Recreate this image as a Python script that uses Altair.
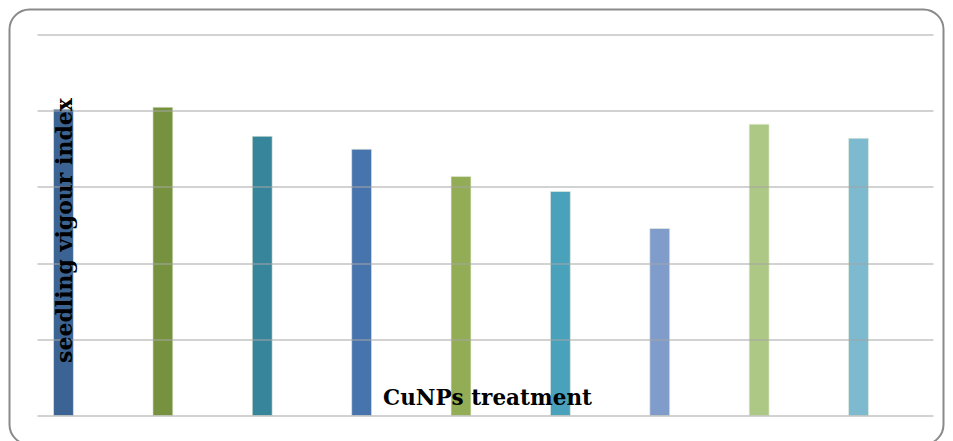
import altair as alt
import pandas as pd

treatments = ["T1", "T2", "T3", "T4", "T5", "T6", "T7", "T8", "T9"]
vigour = [2010, 2023, 1832, 1747, 1569, 1470, 1227, 1911, 1819]
colors = ["#3B6494", "#77923F", "#37859A", "#4874AE", "#92AD55",
          "#4AA1BC", "#7F9CCA", "#ADC785", "#7DB9CF"]

df = pd.DataFrame({"treatment": treatments, "vigour": vigour})

W, H = 896, 381

frame = alt.Chart(pd.DataFrame({"a": [0]})).mark_rect(
    fill="white", fillOpacity=0, stroke="#8a8a8a", strokeWidth=2, cornerRadius=20
).encode(
    x=alt.value(-27.5), x2=alt.value(906.5), y=alt.value(-25), y2=alt.value(410)
)

bars = alt.Chart(df).mark_bar(stroke="#e8eedd", strokeWidth=0.6).encode(
    x=alt.X("treatment:N", sort=treatments,
            scale=alt.Scale(paddingInner=0.8, paddingOuter=0.408, align=0.204),
            axis=alt.Axis(labels=False, ticks=False, domain=False, zindex=1,
                          title="CuNPs treatment", titleFont="DejaVu Serif",
                          titleFontSize=21.5, titleFontWeight="bold", titleColor="#000000",
                          titleX=450, titleY=-17, titleAlign="center",
                          titleBaseline="middle")),
    y=alt.Y("vigour:Q", scale=alt.Scale(domain=[0, 2500]),
            axis=alt.Axis(values=[0, 500, 1000, 1500, 2000, 2500], labels=False,
                          ticks=False, domain=False, grid=True, gridColor="#a6a6a6",
                          gridWidth=1.2, zindex=1,
                          title="seedling vigour index", titleFont="DejaVu Serif",
                          titleFontSize=22, titleFontWeight="bold", titleColor="#000000",
                          titleAngle=-90, titleX=27, titleY=195.5,
                          titleAlign="center", titleBaseline="middle")),
    color=alt.Color("treatment:N", sort=treatments,
                    scale=alt.Scale(domain=treatments, range=colors), legend=None),
)

chart = alt.layer(frame, bars).properties(
    width=W, height=H,
    autosize=alt.AutoSizeParams(type="none"),
    padding={"left": 29, "top": 26.5, "right": 12, "bottom": 25.5},
    background="white",
).configure_view(stroke=None)

chart.save("out.html", embed_options={"renderer": "svg", "actions": False})
